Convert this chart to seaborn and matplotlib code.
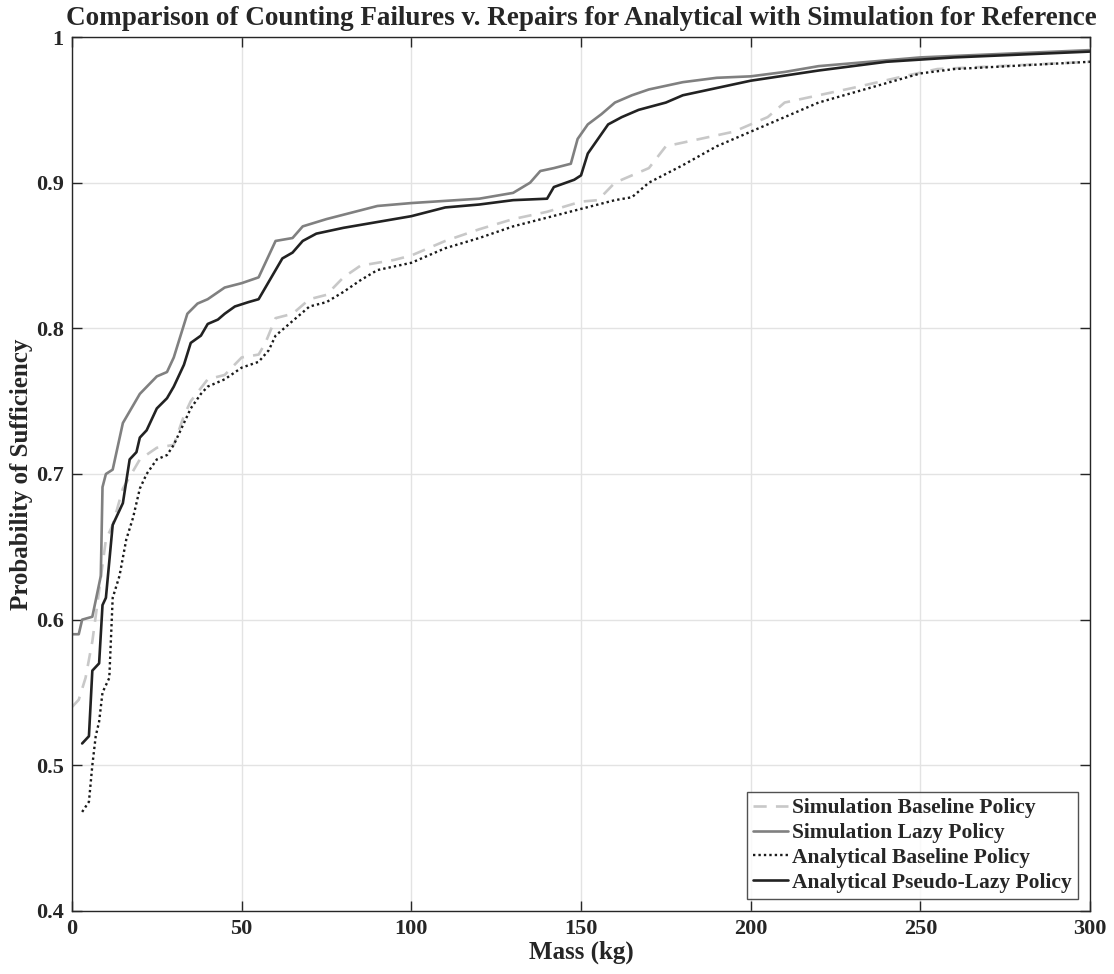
import numpy as np
import pandas as pd
import matplotlib
matplotlib.use("Agg")
import matplotlib.pyplot as plt
import seaborn as sns

# ---- data ----
sim_base_x = [0, 2, 4, 6, 8, 10, 12, 15, 20, 25, 30, 33, 35, 40, 45, 50, 55, 57, 60, 65, 70, 75, 80, 85, 95,
              100, 110, 120, 130, 140, 150, 155, 160, 165, 170, 175, 185, 195, 205, 210, 220, 230, 245, 255, 300]
sim_base_y = [0.540, 0.545, 0.560, 0.585, 0.620, 0.655, 0.665, 0.690, 0.710, 0.718, 0.720, 0.740, 0.750, 0.765,
              0.768, 0.780, 0.782, 0.790, 0.807, 0.810, 0.820, 0.823, 0.835, 0.843, 0.847, 0.850, 0.860, 0.868,
              0.875, 0.880, 0.887, 0.888, 0.900, 0.905, 0.910, 0.925, 0.930, 0.935, 0.945, 0.955, 0.960, 0.965,
              0.973, 0.978, 0.983]

sim_lazy_x = [0, 2, 3, 6, 8.5, 9, 10, 12, 15, 20, 25, 28, 30, 32, 34, 37, 40, 45, 50, 55, 57, 60, 65, 68, 75, 80,
              90, 100, 120, 130, 135, 138, 142, 147, 149, 152, 156, 160, 165, 170, 180, 190, 200, 210, 220, 250, 300]
sim_lazy_y = [0.590, 0.590, 0.600, 0.602, 0.630, 0.691, 0.700, 0.703, 0.735, 0.755, 0.767, 0.770, 0.780, 0.795,
              0.810, 0.817, 0.820, 0.828, 0.831, 0.835, 0.845, 0.860, 0.862, 0.870, 0.875, 0.878, 0.884, 0.886,
              0.889, 0.893, 0.900, 0.908, 0.910, 0.913, 0.930, 0.940, 0.947, 0.955, 0.960, 0.964, 0.969, 0.972,
              0.973, 0.976, 0.980, 0.986, 0.991]

ana_base_x = [3, 5, 6, 7, 8, 9, 11, 12, 14, 16, 18, 20, 22, 25, 28, 30, 32, 35, 38, 40, 45, 50, 55, 58, 60, 65,
              70, 75, 80, 85, 90, 100, 110, 120, 130, 140, 150, 155, 160, 165, 170, 180, 190, 200, 210, 220, 235,
              250, 260, 300]
ana_base_y = [0.468, 0.475, 0.500, 0.520, 0.530, 0.550, 0.560, 0.615, 0.630, 0.655, 0.670, 0.690, 0.700, 0.710,
              0.713, 0.720, 0.730, 0.745, 0.755, 0.760, 0.765, 0.773, 0.777, 0.785, 0.795, 0.805, 0.815, 0.818,
              0.825, 0.833, 0.840, 0.845, 0.855, 0.862, 0.870, 0.876, 0.882, 0.885, 0.888, 0.890, 0.900, 0.912,
              0.925, 0.935, 0.945, 0.955, 0.965, 0.975, 0.978, 0.983]

ana_lazy_x = [3, 5, 6, 8, 9, 10, 12, 13, 15, 17, 19, 20, 22, 25, 28, 30, 33, 35, 38, 40, 43, 45, 48, 52, 55, 57,
              60, 62, 65, 68, 72, 80, 90, 100, 110, 120, 130, 140, 142, 148, 150, 152, 155, 158, 162, 167, 175,
              180, 190, 200, 220, 240, 260, 300]
ana_lazy_y = [0.515, 0.520, 0.565, 0.570, 0.610, 0.615, 0.665, 0.670, 0.680, 0.710, 0.715, 0.725, 0.730, 0.745,
              0.752, 0.760, 0.775, 0.790, 0.795, 0.803, 0.806, 0.810, 0.815, 0.818, 0.820, 0.828, 0.840, 0.848,
              0.852, 0.860, 0.865, 0.869, 0.873, 0.877, 0.883, 0.885, 0.888, 0.889, 0.897, 0.902, 0.905, 0.920,
              0.930, 0.940, 0.945, 0.950, 0.955, 0.960, 0.965, 0.970, 0.977, 0.983, 0.986, 0.990]

labels = ["Simulation Baseline Policy", "Simulation Lazy Policy",
          "Analytical Baseline Policy", "Analytical Pseudo-Lazy Policy"]
x_ticks = [0, 50, 100, 150, 200, 250, 300]
y_ticks = [0.4, 0.5, 0.6, 0.7, 0.8, 0.9, 1.0]
y_tick_labels = ["0.4", "0.5", "0.6", "0.7", "0.8", "0.9", "1"]

# ---- styling ----
sns.set_theme(style="whitegrid")
plt.rcParams["font.family"] = ["Liberation Serif", "DejaVu Serif"]
plt.rcParams["font.weight"] = "bold"

fig = plt.figure(figsize=(11.14, 9.74), dpi=100)
ax = fig.add_axes([0.0646, 0.0647, 0.9139, 0.8973])

series = [
    (sim_base_x, sim_base_y, dict(color="#c8c8c8", linestyle=(0, (5, 3.5)), linewidth=1.9)),
    (sim_lazy_x, sim_lazy_y, dict(color="#808080", linestyle="-", linewidth=1.9)),
    (ana_base_x, ana_base_y, dict(color="#1a1a1a", linestyle=(0, (1, 1.3)), linewidth=1.7)),
    (ana_lazy_x, ana_lazy_y, dict(color="#222222", linestyle="-", linewidth=1.9)),
]
for (xs, ys, st), lab in zip(series, labels):
    sns.lineplot(x=np.array(xs, dtype=float), y=np.array(ys, dtype=float), ax=ax, label=lab,
                 estimator=None, sort=False, **st)

ax.set_xlim(0, 300)
ax.set_ylim(0.4, 1.0)
ax.set_xticks(x_ticks)
ax.set_yticks(y_ticks)
ax.set_xticklabels([str(t) for t in x_ticks], fontsize=16, fontweight="bold")
ax.set_yticklabels(y_tick_labels, fontsize=16, fontweight="bold")
ax.tick_params(axis="both", direction="in", length=7, width=1.0, color="#262626",
               top=True, right=True, bottom=True, left=True, pad=6)
ax.grid(True, color="#e3e3e3", linewidth=1.0)
ax.set_facecolor("white")
for sp in ax.spines.values():
    sp.set_color("#262626")
    sp.set_linewidth(1.0)

ax.set_xlabel("Mass (kg)", fontsize=18, fontweight="bold", labelpad=1)
ax.set_ylabel("Probability of Sufficiency", fontsize=18, fontweight="bold", labelpad=2)
ax.set_title("Comparison of Counting Failures v. Repairs for Analytical with Simulation for Reference",
             fontsize=19.5, fontweight="bold", pad=9)

leg = ax.legend(loc="lower right", fontsize=15.5, frameon=True, fancybox=False, handlelength=1.6,
                handletextpad=0.2, borderpad=0.3, labelspacing=0.22, borderaxespad=0.55)
leg.get_frame().set_edgecolor("#262626")
leg.get_frame().set_linewidth(1.0)
for t in leg.get_texts():
    t.set_fontweight("bold")

fig.savefig("out.png", dpi=100, facecolor="white")
